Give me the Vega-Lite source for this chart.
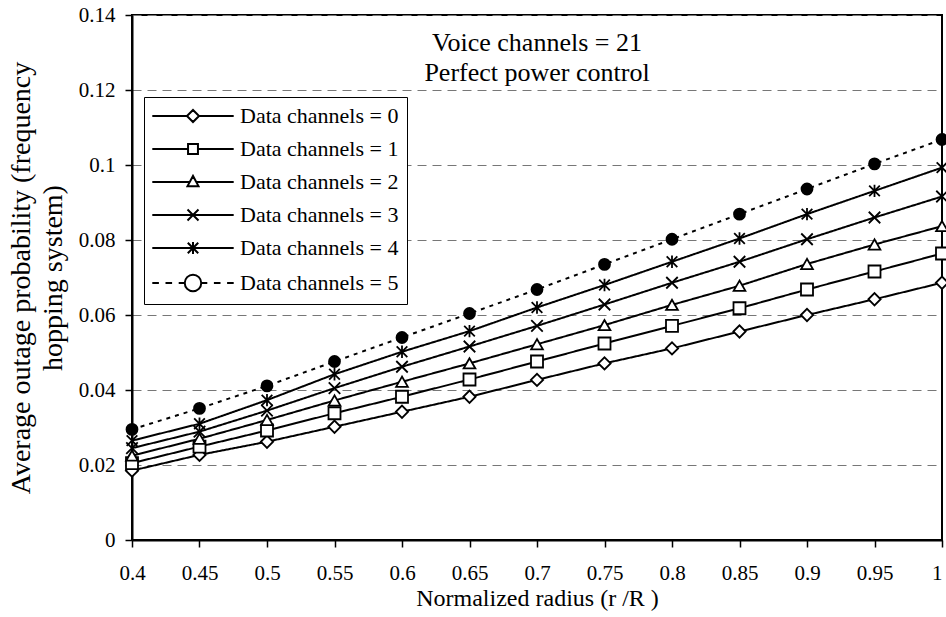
{
  "$schema": "https://vega.github.io/schema/vega-lite/v6.json",
  "width": 810,
  "height": 525,
  "autosize": {"type": "none"},
  "padding": {"left": 132, "top": 15, "right": 4, "bottom": 77},
  "background": "white",
  "title": {
    "text": "Voice channels = 21",
    "subtitle": "Perfect power control",
    "anchor": "middle",
    "frame": "group",
    "offset": -82,
    "font": "Liberation Serif",
    "fontSize": 26,
    "fontWeight": "normal",
    "color": "black",
    "subtitleFont": "Liberation Serif",
    "subtitleFontSize": 26,
    "subtitleColor": "black",
    "subtitlePadding": 4
  },
  "config": {
    "font": "Liberation Serif",
    "view": {"stroke": "black", "strokeWidth": 2},
    "axis": {
      "labelFont": "Liberation Serif",
      "titleFont": "Liberation Serif",
      "labelFontSize": 21,
      "titleFontSize": 24,
      "titleFontWeight": "normal",
      "labelColor": "black",
      "titleColor": "black",
      "domainColor": "black",
      "domainWidth": 2,
      "tickColor": "black",
      "tickWidth": 1.5,
      "tickSize": 7
    }
  },
  "data": {
    "values": [
      {"r": 0.4, "p": 0.0185, "s": "Data channels = 0"},
      {"r": 0.45, "p": 0.0227, "s": "Data channels = 0"},
      {"r": 0.5, "p": 0.0262, "s": "Data channels = 0"},
      {"r": 0.55, "p": 0.0302, "s": "Data channels = 0"},
      {"r": 0.6, "p": 0.0342, "s": "Data channels = 0"},
      {"r": 0.65, "p": 0.0382, "s": "Data channels = 0"},
      {"r": 0.7, "p": 0.0427, "s": "Data channels = 0"},
      {"r": 0.75, "p": 0.0471, "s": "Data channels = 0"},
      {"r": 0.8, "p": 0.0511, "s": "Data channels = 0"},
      {"r": 0.85, "p": 0.0556, "s": "Data channels = 0"},
      {"r": 0.9, "p": 0.06, "s": "Data channels = 0"},
      {"r": 0.95, "p": 0.0642, "s": "Data channels = 0"},
      {"r": 1.0, "p": 0.0686, "s": "Data channels = 0"},
      {"r": 0.4, "p": 0.0205, "s": "Data channels = 1"},
      {"r": 0.45, "p": 0.0249, "s": "Data channels = 1"},
      {"r": 0.5, "p": 0.0292, "s": "Data channels = 1"},
      {"r": 0.55, "p": 0.0338, "s": "Data channels = 1"},
      {"r": 0.6, "p": 0.0382, "s": "Data channels = 1"},
      {"r": 0.65, "p": 0.0428, "s": "Data channels = 1"},
      {"r": 0.7, "p": 0.0476, "s": "Data channels = 1"},
      {"r": 0.75, "p": 0.0524, "s": "Data channels = 1"},
      {"r": 0.8, "p": 0.0571, "s": "Data channels = 1"},
      {"r": 0.85, "p": 0.0618, "s": "Data channels = 1"},
      {"r": 0.9, "p": 0.0668, "s": "Data channels = 1"},
      {"r": 0.95, "p": 0.0716, "s": "Data channels = 1"},
      {"r": 1.0, "p": 0.0764, "s": "Data channels = 1"},
      {"r": 0.4, "p": 0.0225, "s": "Data channels = 2"},
      {"r": 0.45, "p": 0.027, "s": "Data channels = 2"},
      {"r": 0.5, "p": 0.032, "s": "Data channels = 2"},
      {"r": 0.55, "p": 0.0372, "s": "Data channels = 2"},
      {"r": 0.6, "p": 0.0422, "s": "Data channels = 2"},
      {"r": 0.65, "p": 0.0471, "s": "Data channels = 2"},
      {"r": 0.7, "p": 0.0522, "s": "Data channels = 2"},
      {"r": 0.75, "p": 0.0573, "s": "Data channels = 2"},
      {"r": 0.8, "p": 0.0627, "s": "Data channels = 2"},
      {"r": 0.85, "p": 0.0678, "s": "Data channels = 2"},
      {"r": 0.9, "p": 0.0736, "s": "Data channels = 2"},
      {"r": 0.95, "p": 0.0788, "s": "Data channels = 2"},
      {"r": 1.0, "p": 0.0837, "s": "Data channels = 2"},
      {"r": 0.4, "p": 0.0245, "s": "Data channels = 3"},
      {"r": 0.45, "p": 0.0289, "s": "Data channels = 3"},
      {"r": 0.5, "p": 0.0345, "s": "Data channels = 3"},
      {"r": 0.55, "p": 0.0405, "s": "Data channels = 3"},
      {"r": 0.6, "p": 0.0462, "s": "Data channels = 3"},
      {"r": 0.65, "p": 0.0516, "s": "Data channels = 3"},
      {"r": 0.7, "p": 0.0571, "s": "Data channels = 3"},
      {"r": 0.75, "p": 0.0628, "s": "Data channels = 3"},
      {"r": 0.8, "p": 0.0686, "s": "Data channels = 3"},
      {"r": 0.85, "p": 0.0742, "s": "Data channels = 3"},
      {"r": 0.9, "p": 0.0802, "s": "Data channels = 3"},
      {"r": 0.95, "p": 0.086, "s": "Data channels = 3"},
      {"r": 1.0, "p": 0.0916, "s": "Data channels = 3"},
      {"r": 0.4, "p": 0.0265, "s": "Data channels = 4"},
      {"r": 0.45, "p": 0.031, "s": "Data channels = 4"},
      {"r": 0.5, "p": 0.0373, "s": "Data channels = 4"},
      {"r": 0.55, "p": 0.0442, "s": "Data channels = 4"},
      {"r": 0.6, "p": 0.0502, "s": "Data channels = 4"},
      {"r": 0.65, "p": 0.0557, "s": "Data channels = 4"},
      {"r": 0.7, "p": 0.062, "s": "Data channels = 4"},
      {"r": 0.75, "p": 0.068, "s": "Data channels = 4"},
      {"r": 0.8, "p": 0.0742, "s": "Data channels = 4"},
      {"r": 0.85, "p": 0.0804, "s": "Data channels = 4"},
      {"r": 0.9, "p": 0.0869, "s": "Data channels = 4"},
      {"r": 0.95, "p": 0.0931, "s": "Data channels = 4"},
      {"r": 1.0, "p": 0.0993, "s": "Data channels = 4"},
      {"r": 0.4, "p": 0.0295, "s": "Data channels = 5"},
      {"r": 0.45, "p": 0.0351, "s": "Data channels = 5"},
      {"r": 0.5, "p": 0.0411, "s": "Data channels = 5"},
      {"r": 0.55, "p": 0.0476, "s": "Data channels = 5"},
      {"r": 0.6, "p": 0.054, "s": "Data channels = 5"},
      {"r": 0.65, "p": 0.0604, "s": "Data channels = 5"},
      {"r": 0.7, "p": 0.0668, "s": "Data channels = 5"},
      {"r": 0.75, "p": 0.0735, "s": "Data channels = 5"},
      {"r": 0.8, "p": 0.0802, "s": "Data channels = 5"},
      {"r": 0.85, "p": 0.0869, "s": "Data channels = 5"},
      {"r": 0.9, "p": 0.0936, "s": "Data channels = 5"},
      {"r": 0.95, "p": 0.1003, "s": "Data channels = 5"},
      {"r": 1.0, "p": 0.1068, "s": "Data channels = 5"}
    ]
  },
  "encoding": {
    "x": {
      "field": "r",
      "type": "quantitative",
      "scale": {"domain": [0.4, 1], "nice": false, "zero": false},
      "axis": {
        "title": "Normalized radius (r /R )",
        "values": [0.4, 0.45, 0.5, 0.55, 0.6, 0.65, 0.7, 0.75, 0.8, 0.85, 0.9, 0.95, 1],
        "format": "~g",
        "grid": false,
        "labelPadding": 15,
        "titlePadding": 3,
        "labelFlush": false,
        "labelAlign": {"condition": {"test": "datum.value >= 0.99", "value": "right"}, "value": "center"}
      }
    },
    "y": {
      "field": "p",
      "type": "quantitative",
      "scale": {"domain": [0, 0.14], "nice": false},
      "axis": {
        "title": ["Average outage probability (frequency", "hopping system)"],
        "titleFontSize": 28,
        "titleLineHeight": 32,
        "values": [0, 0.02, 0.04, 0.06, 0.08, 0.1, 0.12, 0.14],
        "format": "~g",
        "grid": true,
        "gridColor": "#777777",
        "gridDash": [9, 6],
        "gridWidth": 1,
        "labelPadding": 10,
        "titlePadding": 11,
        "labelFlush": false
      }
    }
  },
  "layer": [
    {
      "mark": {"type": "line", "color": "black", "strokeWidth": 2},
      "encoding": {
        "detail": {"field": "s"},
        "strokeDash": {
          "field": "s",
          "type": "nominal",
          "scale": {
            "domain": ["Data channels = 0", "Data channels = 1", "Data channels = 2", "Data channels = 3", "Data channels = 4", "Data channels = 5"],
            "range": [[1, 0], [1, 0], [1, 0], [1, 0], [1, 0], [4, 5]]
          },
          "legend": null
        }
      }
    },
    {
      "mark": {"type": "point", "stroke": "black", "strokeWidth": 1.8, "opacity": 1},
      "encoding": {
        "shape": {
          "field": "s",
          "type": "nominal",
          "scale": {
            "domain": ["Data channels = 0", "Data channels = 1", "Data channels = 2", "Data channels = 3", "Data channels = 4", "Data channels = 5"],
            "range": ["diamond", "square", "triangle-up", "M-1,-1L1,1M-1,1L1,-1", "M0,-1.1V1.1M-0.95,-0.95L0.95,0.95M-0.95,0.95L0.95,-0.95", "circle"]
          },
          "legend": null
        },
        "fill": {
          "field": "s",
          "type": "nominal",
          "scale": {
            "domain": ["Data channels = 0", "Data channels = 1", "Data channels = 2", "Data channels = 3", "Data channels = 4", "Data channels = 5"],
            "range": ["white", "white", "white", "white", "white", "black"]
          },
          "legend": null
        },
        "size": {
          "field": "s",
          "type": "nominal",
          "scale": {
            "domain": ["Data channels = 0", "Data channels = 1", "Data channels = 2", "Data channels = 3", "Data channels = 4", "Data channels = 5"],
            "range": [150, 120, 150, 42, 42, 220]
          },
          "legend": null
        }
      }
    },
    {
      "transform": [{"filter": "datum.r > 5"}],
      "mark": {"type": "point", "stroke": "black", "strokeWidth": 2, "opacity": 1},
      "encoding": {
        "shape": {
          "field": "s",
          "type": "nominal",
          "scale": {
            "domain": ["Data channels = 0", "Data channels = 1", "Data channels = 2", "Data channels = 3", "Data channels = 4", "Data channels = 5"],
            "range": [
              "M-7.4,0H-1.1M1.1,0H7.4M0,-1.1L1.1,0L0,1.1L-1.1,0ZM0,-1.1L-1.1,0L0,1.1L1.1,0Z",
              "M-7.4,0H-0.9M0.9,0H7.4M-0.9,-0.9H0.9V0.9H-0.9ZM-0.9,-0.9V0.9H0.9V-0.9Z",
              "M-7.4,0H-0.6M0.6,0H7.4M0,-1.1L1,0.75L-1,0.75ZM0,-1.1L-1,0.75L1,0.75Z",
              "M-7.4,0H7.4M-1,-1L1,1M-1,1L1,-1",
              "M-7.4,0H7.4M0,-1.1V1.1M-0.95,-0.95L0.95,0.95M-0.95,0.95L0.95,-0.95",
              "M-7.4,0H-6.2M-5,0H-3.8M-2.6,0H-1.5M1.5,0H2.6M3.8,0H5M6.2,0H7.4M1.5,0A1.5,1.5 0 1 1 -1.5,0A1.5,1.5 0 1 1 1.5,0Z"
            ]
          },
          "legend": {
            "title": null,
            "orient": "none",
            "legendX": 12,
            "legendY": 82,
            "strokeColor": "black",
            "fillColor": "white",
            "padding": 8,
            "symbolSize": 121,
            "symbolStrokeColor": "black",
            "symbolStrokeWidth": 2,
            "symbolFillColor": "black",
            "symbolOffset": 30,
            "labelOffset": 36,
            "labelFont": "Liberation Serif",
            "labelFontSize": 22,
            "labelColor": "black",
            "labelLimit": 300,
            "rowPadding": 11,
            "encode": {
              "symbols": {
                "fill": {"value": "black"},
                "stroke": {"value": "black"},
                "strokeWidth": {"value": 2},
                "opacity": {"value": 1}
              }
            }
          }
        }
      }
    }
  ],
  "resolve": {"scale": {"shape": "independent"}}
}
